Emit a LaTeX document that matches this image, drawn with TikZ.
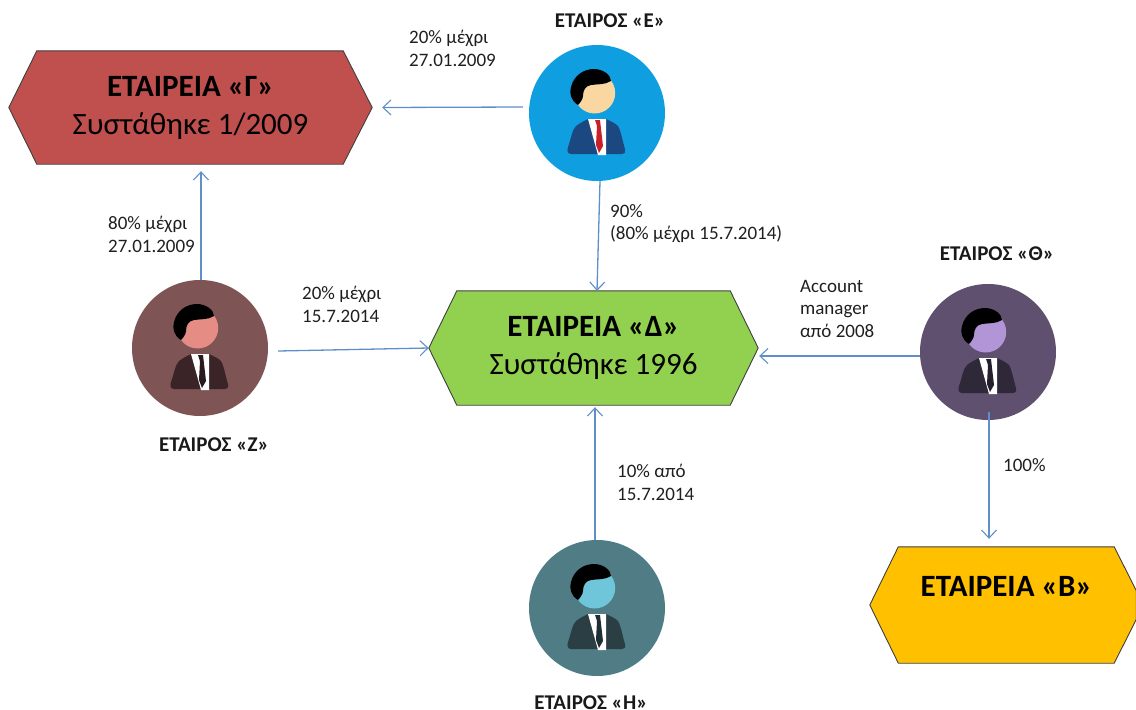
\documentclass[tikz,border=0pt]{standalone}
\usepackage{fontspec}
\setmainfont{Carlito}
\usetikzlibrary{arrows.meta,backgrounds}
\definecolor{linkblue}{HTML}{5F8FC9}
\definecolor{edgegray}{HTML}{3F3F3F}
\definecolor{hexG}{HTML}{C0504D}
\definecolor{hexD}{HTML}{92D050}
\definecolor{hexB}{HTML}{FFC000}
\definecolor{discE}{HTML}{0F9FE0}
\definecolor{faceE}{HTML}{FAD7A0}
\definecolor{suitE}{HTML}{1C4882}
\definecolor{tieE}{HTML}{C8202A}
\definecolor{discZ}{HTML}{7F5454}
\definecolor{faceZ}{HTML}{E58C85}
\definecolor{suitZ}{HTML}{3A2428}
\definecolor{tieZ}{HTML}{2A1A1E}
\definecolor{discT}{HTML}{5F5070}
\definecolor{faceT}{HTML}{B195D6}
\definecolor{suitT}{HTML}{2E2838}
\definecolor{tieT}{HTML}{241E2E}
\definecolor{discH}{HTML}{4F7C85}
\definecolor{faceH}{HTML}{6FC5DA}
\definecolor{suitH}{HTML}{2B3E44}
\definecolor{tieH}{HTML}{1E2E34}
\tikzset{
  arr/.style={draw=linkblue,line width=1.3pt,-{Straight Barb[length=8pt,width=15pt,line width=1.1pt]}},
  hexbox/.style={inner sep=0pt,minimum width=#1,align=center,font=\fontsize{31}{38}\selectfont},
  hexline/.style={draw=edgegray,line width=0.9pt,line join=miter},
  note/.style={inner sep=0pt,anchor=north west,align=left,font=\fontsize{19}{22.5}\selectfont,text=black!88},
  who/.style={inner sep=0pt,font=\fontsize{21}{24}\selectfont\bfseries,text=black!90},
  disc/.style={circle,inner sep=0pt,minimum size=136pt},
}
% name, x, y
\newcommand{\personfig}[3]{
  \node[disc,fill=disc#1] (#1) at (#2,#3) {};
  \begin{scope}[shift={(#2,#3)}]
    \fill[face#1] (-2.3,-20) circle (20.5);
    \fill[black] (-19,-8) .. controls (-26,-12) and (-28,-20) .. (-26,-26)
      .. controls (-23,-38) and (-13,-44) .. (-3,-44)
      .. controls (6,-44) and (14,-38) .. (14,-32)
      .. controls (8,-28) and (0,-29) .. (-6,-28)
      .. controls (-12,-27) and (-14,-22) .. (-14,-17)
      .. controls (-14,-14) and (-17,-10) .. (-19,-8) -- cycle;
    \fill[suit#1] (-26,41) .. controls (-30,41) and (-30,37) .. (-29,34)
      .. controls (-26,26) and (-25,17) .. (-21,13)
      .. controls (-17,10) and (-13,8) .. (-9,6) -- (9,6)
      .. controls (13,8) and (18,10) .. (21,13)
      .. controls (24,18) and (26,30) .. (28,36)
      .. controls (29,40) and (27,41) .. (25,41) -- cycle;
    \fill[white] (-9,6) -- (9,6) -- (9,42) -- (1,42) -- cycle;
    \fill[tie#1] (-2,7) -- (3,7) -- (6,33) -- (2,40) -- (-1,32) -- (0,13) -- cycle;
  \end{scope}
}
\begin{document}
\begin{tikzpicture}[x=1pt,y=-1pt]
\useasboundingbox (0,0) rectangle (1136,710);

\node[hexbox=363pt,minimum height=113pt] (G) at (190.5,107.5)
  {\raisebox{-3pt}{\textbf{ΕΤΑΙΡΕΙΑ «Γ»}}\\\raisebox{-3pt}{Συστάθηκε 1/2009}};
\node[hexbox=329pt,minimum height=114pt] (D) at (593.5,348)
  {\raisebox{-3pt}{\textbf{ΕΤΑΙΡΕΙΑ «Δ»}}\\\raisebox{-3pt}{Συστάθηκε 1996}};
\node[hexbox=273pt,minimum height=116pt] (B) at (1006.5,605)
  {\textbf{ΕΤΑΙΡΕΙΑ «Β»}\\\mbox{}};

\begin{scope}[on background layer]
  \draw[hexline,fill=hexG]
    (G.west) -- ([shift={(28,0)}]G.north west) -- ([shift={(-29,0)}]G.north east)
    -- (G.east) -- ([shift={(-29,0)}]G.south east) -- ([shift={(28,0)}]G.south west) -- cycle;
  \draw[hexline,fill=hexD]
    (D.west) -- ([shift={(28,0)}]D.north west) -- ([shift={(-28,0)}]D.north east)
    -- (D.east) -- ([shift={(-28,0)}]D.south east) -- ([shift={(28,0)}]D.south west) -- cycle;
  \draw[hexline,fill=hexB]
    (B.west) -- ([shift={(28.5,0)}]B.north west) -- ([shift={(-29,0)}]B.north east)
    -- ([shift={(-7,-14.5)}]B.east) -- ([shift={(-7,14.5)}]B.east)
    -- ([shift={(-29,0)}]B.south east) -- ([shift={(28.5,0)}]B.south west) -- cycle;
\end{scope}

\personfig{E}{597}{113}
\personfig{Z}{200}{348}
\personfig{T}{988}{352}
\personfig{H}{597}{608}

\draw[arr] ([shift={(-6,-6)}]E.west) -- ([shift={(10,0)}]G.east);
\draw[arr] ([shift={(3,0)}]E.south) -- ([shift={(3.5,0)}]D.north);
\draw[arr] ([shift={(1,0)}]Z.north) -- ([shift={(10.5,7)}]G.south);
\draw[arr] ([shift={(10,3)}]Z.east) -- (D.west);
\draw[arr] ([shift={(-2,0.5)}]H.north) -- ([shift={(1.5,2)}]D.south);
\draw[arr] ([shift={(0,4)}]T.west) -- ([shift={(1,8)}]D.east);
\draw[arr] ([shift={(1,-8)}]T.south) -- ([shift={(-17.5,-8)}]B.north);

\node[who] (whoE) at (610,21) {ΕΤΑΙΡΟΣ «Ε»};
\node[who] (whoZ) at (214,445) {ΕΤΑΙΡΟΣ «Ζ»};
\node[who] (whoT) at (997,254) {ΕΤΑΙΡΟΣ «Θ»};
\node[who] (whoH) at (591,703) {ΕΤΑΙΡΟΣ «Η»};

\node[note] (n1) at (409,30) {20\% μέχρι\\27.01.2009};
\node[note] (n2) at (108,216) {80\% μέχρι\\27.01.2009};
\node[note] (n3) at (302,286) {20\% μέχρι\\15.7.2014};
\node[note] (n4) at (610,204) {90\%\\(80\% μέχρι 15.7.2014)};
\node[note] (n5) at (800,280) {Account\\manager\\από 2008};
\node[note] (n6) at (1003,458) {100\%};
\node[note] (n7) at (617,464) {10\% από\\15.7.2014};
\end{tikzpicture}
\end{document}
